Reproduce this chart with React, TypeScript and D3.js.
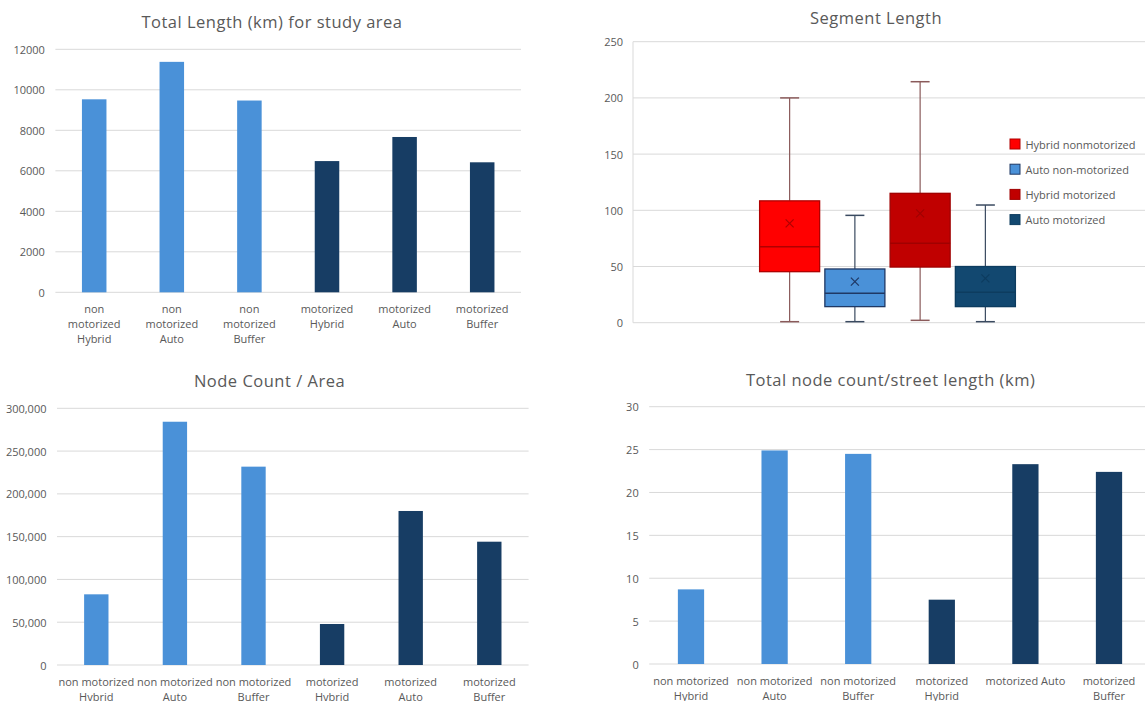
import React from "react";
import * as d3 from "d3";

// ---- Total length (km) for study area ----
const lengthLabels: string[][] = [
  ["non", "motorized", "Hybrid"],
  ["non", "motorized", "Auto"],
  ["non", "motorized", "Buffer"],
  ["motorized", "Hybrid"],
  ["motorized", "Auto"],
  ["motorized", "Buffer"],
];
const lengthKm = [9530, 11380, 9470, 6480, 7670, 6420];
const lengthTicks = [0, 2000, 4000, 6000, 8000, 10000, 12000];

// ---- Node count / area ----
const nodeAreaLabels: string[][] = [
  ["non motorized", "Hybrid"],
  ["non motorized", "Auto"],
  ["non motorized", "Buffer"],
  ["motorized", "Hybrid"],
  ["motorized", "Auto"],
  ["motorized", "Buffer"],
];
const nodesPerArea = [82600, 284300, 231800, 47900, 180000, 144100];
const nodeAreaTicks = [0, 50000, 100000, 150000, 200000, 250000, 300000];

// ---- Total node count / street length (km) ----
const nodeLengthLabels: string[][] = [
  ["non motorized", "Hybrid"],
  ["non motorized", "Auto"],
  ["non motorized", "Buffer"],
  ["motorized", "Hybrid"],
  ["motorized Auto"],
  ["motorized", "Buffer"],
];
const nodesPerKm = [8.7, 24.9, 24.5, 7.5, 23.3, 22.4];
const nodeLengthTicks = [0, 5, 10, 15, 20, 25, 30];

// network type of each bar (drives colour)
const barGroups = [
  "non motorized",
  "non motorized",
  "non motorized",
  "motorized",
  "motorized",
  "motorized",
];

// ---- Segment length box plot ----
const boxSeries = [
  "Hybrid nonmotorized",
  "Auto non-motorized",
  "Hybrid motorized",
  "Auto motorized",
];
const boxMin = [0.9, 0.9, 2.1, 0.9];
const boxQ1 = [45.4, 14.3, 49.5, 14.3];
const boxMedian = [67.6, 26.1, 70.6, 27.0];
const boxQ3 = [108.4, 47.8, 115.1, 50.0];
const boxMax = [200.0, 95.5, 214.4, 104.7];
const boxMean = [88.4, 36.5, 97.3, 39.5];
const boxTicks = [0, 50, 100, 150, 200, 250];

const FONT = "'Open Sans', 'Noto Sans', sans-serif";
const TEXT = "#595959";
const GRID = "#d9d9d9";

const groupColor = d3
  .scaleOrdinal<string, string>()
  .domain(["non motorized", "motorized"])
  .range(["#4a91d8", "#173d64"]);

const boxFill = d3
  .scaleOrdinal<string, string>()
  .domain(boxSeries)
  .range(["#ff0000", "#4a91d8", "#c00000", "#124870"]);
const boxStroke = d3
  .scaleOrdinal<string, string>()
  .domain(boxSeries)
  .range(["#b00000", "#1f3864", "#a00000", "#0d3c5f"]);
const whiskerStroke = d3
  .scaleOrdinal<string, string>()
  .domain(boxSeries)
  .range(["#8a5a5a", "#3a4a60", "#8a5a5a", "#3a4a60"]);

function Title(props: { x: number; y: number; text: string }) {
  return (
    <text
      x={props.x}
      y={props.y}
      textAnchor="middle"
      dominantBaseline="central"
      fontSize={16.5}
      letterSpacing={0.5}
      fill={TEXT}
      fontFamily={FONT}
    >
      {props.text}
    </text>
  );
}

type BarChartProps = {
  title: string;
  titleX: number;
  titleY: number;
  labels: string[][];
  values: number[];
  ticks: number[];
  tickFormat: (v: number) => string;
  x0: number;
  x1: number;
  gridX1: number;
  yTop: number;
  yBottom: number;
  labelY: number;
  barRatio: number;
};

function BarChart(p: BarChartProps) {
  const x = d3
    .scaleBand<number>()
    .domain(d3.range(p.values.length))
    .range([p.x0, p.x1])
    .padding(0);
  const y = d3
    .scaleLinear()
    .domain([0, d3.max(p.ticks) as number])
    .range([p.yBottom, p.yTop]);
  const bw = x.bandwidth() * p.barRatio;
  return (
    <g>
      <Title x={p.titleX} y={p.titleY} text={p.title} />
      {p.ticks.map((t) => (
        <g key={t}>
          <line
            x1={p.x0}
            x2={p.gridX1}
            y1={y(t)}
            y2={y(t)}
            stroke={GRID}
            strokeWidth={1}
          />
          <text
            x={p.x0 - 10.5}
            y={y(t)}
            textAnchor="end"
            dominantBaseline="central"
            fontSize={11}
            fill={TEXT}
            fontFamily={FONT}
          >
            {p.tickFormat(t)}
          </text>
        </g>
      ))}
      {p.values.map((v, i) => {
        const cx = (x(i) as number) + x.bandwidth() / 2;
        return (
          <g key={i}>
            <rect
              x={cx - bw / 2}
              y={y(v)}
              width={bw}
              height={y(0) - y(v)}
              fill={groupColor(barGroups[i])}
            />
            <text
              textAnchor="middle"
              fontSize={11}
              fill={TEXT}
              fontFamily={FONT}
            >
              {p.labels[i].map((line, k) => (
                <tspan key={k} x={cx} y={p.labelY + k * 15} dominantBaseline="central">
                  {line}
                </tspan>
              ))}
            </text>
          </g>
        );
      })}
    </g>
  );
}

function BoxChart() {
  const plotX0 = 633;
  const plotX1 = 1142;
  const y = d3.scaleLinear().domain([0, 250]).range([322.7, 41.7]);
  const outer = d3
    .scaleBand<string>()
    .domain(["Segment Length"])
    .range([plotX0, plotX1])
    .paddingInner(0)
    .paddingOuter(0.495);
  const inner = d3
    .scaleBand<string>()
    .domain(boxSeries)
    .range([0, outer.bandwidth()])
    .paddingInner(0.08)
    .paddingOuter(0);
  const gx = outer("Segment Length") as number;
  const bw = inner.bandwidth();
  const capW = 19;
  const mk = 6;
  return (
    <g>
      <Title x={876} y={17.3} text="Segment Length" />
      {boxTicks.map((t) => (
        <g key={t}>
          <line x1={plotX0} x2={1145} y1={y(t)} y2={y(t)} stroke={GRID} />
          <text
            x={plotX0 - 10}
            y={y(t)}
            textAnchor="end"
            dominantBaseline="central"
            fontSize={11}
            fill={TEXT}
            fontFamily={FONT}
          >
            {t}
          </text>
        </g>
      ))}
      <line x1={plotX0} x2={plotX0} y1={y(250)} y2={y(0)} stroke={GRID} />
      {boxSeries.map((s, i) => {
        const left = gx + (inner(s) as number);
        const cx = left + bw / 2;
        const ws = whiskerStroke(s);
        return (
          <g key={s}>
            <line x1={cx} x2={cx} y1={y(boxMax[i])} y2={y(boxQ3[i])} stroke={ws} strokeWidth={1.2} />
            <line x1={cx} x2={cx} y1={y(boxQ1[i])} y2={y(boxMin[i])} stroke={ws} strokeWidth={1.2} />
            <line x1={cx - capW / 2} x2={cx + capW / 2} y1={y(boxMax[i])} y2={y(boxMax[i])} stroke={ws} strokeWidth={1.5} />
            <line x1={cx - capW / 2} x2={cx + capW / 2} y1={y(boxMin[i])} y2={y(boxMin[i])} stroke={ws} strokeWidth={1.5} />
            <rect
              x={left}
              y={y(boxQ3[i])}
              width={bw}
              height={y(boxQ1[i]) - y(boxQ3[i])}
              fill={boxFill(s)}
              stroke={boxStroke(s)}
              strokeWidth={1.3}
            />
            <line
              x1={left}
              x2={left + bw}
              y1={y(boxMedian[i])}
              y2={y(boxMedian[i])}
              stroke={boxStroke(s)}
              strokeWidth={1.5}
            />
            <g stroke={boxStroke(s)} strokeWidth={1.2}>
              <line x1={cx - mk / 2 - 1} x2={cx + mk / 2 + 1} y1={y(boxMean[i]) - mk / 2 - 1} y2={y(boxMean[i]) + mk / 2 + 1} />
              <line x1={cx - mk / 2 - 1} x2={cx + mk / 2 + 1} y1={y(boxMean[i]) + mk / 2 + 1} y2={y(boxMean[i]) - mk / 2 - 1} />
            </g>
          </g>
        );
      })}
      {boxSeries.map((s, i) => {
        const ly = 144 + i * 25.2;
        return (
          <g key={"lg" + s}>
            <rect x={1010} y={ly - 5} width={10} height={10} fill={boxFill(s)} stroke={boxStroke(s)} strokeWidth={1} />
            <text
              x={1025.5}
              y={ly}
              dominantBaseline="central"
              fontSize={11}
              fill={TEXT}
              fontFamily={FONT}
            >
              {s}
            </text>
          </g>
        );
      })}
    </g>
  );
}

export default function App() {
  const fmtComma = d3.format(",");
  return (
    <svg
      width={1145}
      height={701}
      viewBox="0 0 1145 701"
      style={{ position: "absolute", left: 0, top: 0, display: "block", background: "#fff" }}
    >
      <rect width={1145} height={701} fill="#fff" />
      <BarChart
        title="Total Length (km) for study area"
        titleX={272}
        titleY={21.7}
        labels={lengthLabels}
        values={lengthKm}
        ticks={lengthTicks}
        tickFormat={(v) => String(v)}
        x0={55.4}
        x1={521}
        gridX1={521}
        yTop={49.3}
        yBottom={292.3}
        labelY={308.3}
        barRatio={0.316}
      />
      <BoxChart />
      <BarChart
        title="Node Count / Area"
        titleX={269.5}
        titleY={380}
        labels={nodeAreaLabels}
        values={nodesPerArea}
        ticks={nodeAreaTicks}
        tickFormat={(v) => fmtComma(v)}
        x0={57}
        x1={528.6}
        gridX1={528.6}
        yTop={408.3}
        yBottom={665}
        labelY={681.2}
        barRatio={0.31}
      />
      <BarChart
        title="Total node count/street length (km)"
        titleX={890.6}
        titleY={379}
        labels={nodeLengthLabels}
        values={nodesPerKm}
        ticks={nodeLengthTicks}
        tickFormat={(v) => String(v)}
        x0={649.2}
        x1={1150.8}
        gridX1={1145}
        yTop={406.7}
        yBottom={664}
        labelY={680.4}
        barRatio={0.314}
      />
    </svg>
  );
}
